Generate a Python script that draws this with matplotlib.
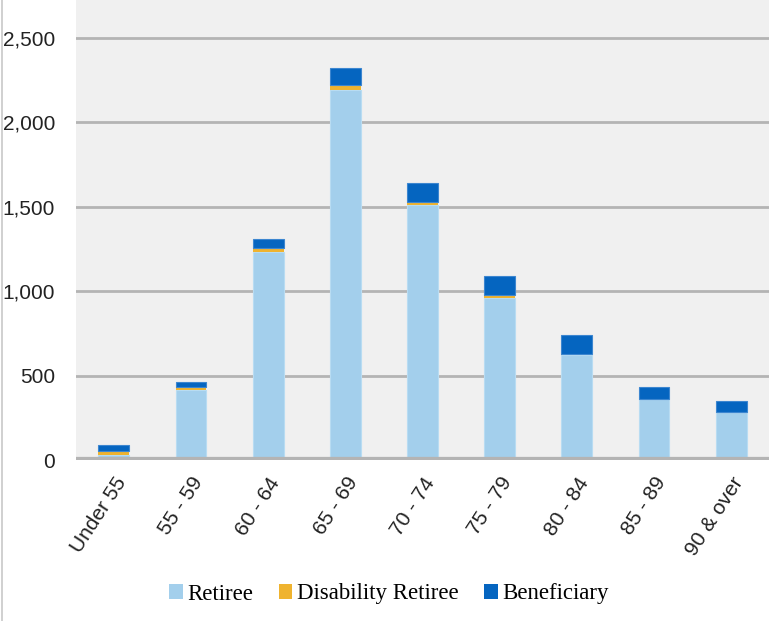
import matplotlib
matplotlib.use("Agg")
import matplotlib.pyplot as plt
from matplotlib.patches import Patch
from matplotlib.lines import Line2D
from matplotlib.ticker import FuncFormatter
import numpy as np

categories = ["Under 55", "55 - 59", "60 - 64", "65 - 69", "70 - 74",
              "75 - 79", "80 - 84", "85 - 89", "90 & over"]
retiree = [30, 413, 1231, 2190, 1510, 961, 623, 359, 282]
disability = [25, 21, 22, 28, 20, 14, 2, 1, 1]
beneficiary = [32, 30, 55, 101, 109, 114, 115, 75, 69]
series_names = ["Retiree", "Disability Retiree", "Beneficiary"]
colors = ["#A3CFEC", "#EFB32F", "#0565C0"]
yticks = [0, 500, 1000, 1500, 2000, 2500]

W, H = 769, 621
fig = plt.figure(figsize=(W / 100, H / 100), dpi=100)
ax = fig.add_axes([76 / W, 161 / H, (W - 76) / W, 460 / H])
ax.set_facecolor("#F0F0F0")

x = np.arange(len(categories))
r = np.array(retiree)
d = np.array(disability)
b = np.array(beneficiary)
ax.bar(x, r, width=0.4, color=colors[0], edgecolor="#B8DCF2", linewidth=0.8, zorder=3)
ax.bar(x, d, width=0.4, bottom=r, color=colors[1], linewidth=0, zorder=3)
ax.bar(x, b, width=0.4, bottom=r + d, color=colors[2], edgecolor="#3C86D0", linewidth=0.8, zorder=3)

ax.set_xlim(-0.49, 8.49)
ax.set_ylim(0, 2723)
ax.set_yticks(yticks)
ax.yaxis.set_major_formatter(FuncFormatter(lambda v, p: f"{int(v):,}"))
ax.grid(axis="y", color="#B4B4B4", linewidth=2, zorder=1)
ax.axhline(0, color="#B4B4B4", linewidth=4.5, zorder=4)
for s in ax.spines.values():
    s.set_visible(False)
ax.tick_params(axis="both", length=0)
ax.tick_params(axis="y", pad=15, labelsize=15, labelcolor="#222222")
ax.set_xticks(x)
ax.set_xticklabels(categories, rotation=57, ha="right", rotation_mode="anchor",
                   fontsize=15, color="#222222")
ax.tick_params(axis="x", pad=10)
for lab in ax.get_xticklabels() + ax.get_yticklabels():
    lab.set_family("Liberation Sans")

handles = [Patch(facecolor=c, edgecolor="none") for c in colors]
leg = fig.legend(handles, series_names, loc="center", ncol=3,
                 bbox_to_anchor=(389 / W, 1 - 594 / H), frameon=False,
                 prop={"family": "Liberation Serif", "size": 16.5},
                 handlelength=0.6, handleheight=0.6, handletextpad=0.2,
                 columnspacing=1.1)

fig.add_artist(Line2D([2 / W, 2 / W], [0, 1], color="#C8C8C8", linewidth=1.2,
                      transform=fig.transFigure))

fig.savefig("out.png", dpi=100)
